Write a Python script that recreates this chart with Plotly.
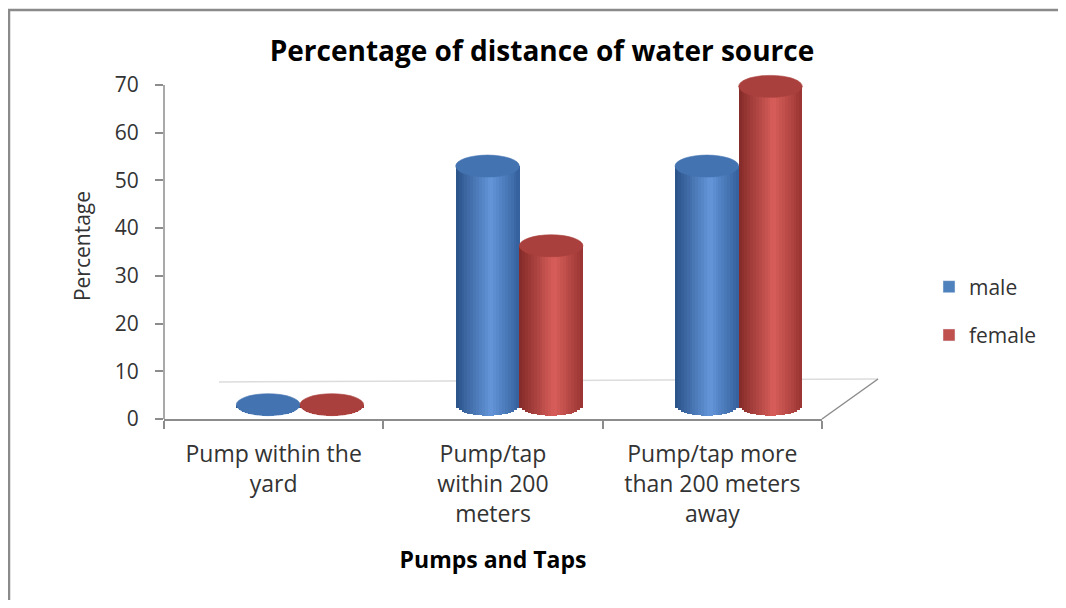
import plotly.graph_objects as go
import math

# ---------------- data ----------------
categories = ["Pump within the<br>yard", "Pump/tap<br>within 200<br>meters", "Pump/tap more<br>than 200 meters<br>away"]
series_names = ["male", "female"]
male = [0, 50, 50]
female = [0, 33.3, 66.7]
y_ticks = [0, 10, 20, 30, 40, 50, 60, 70]

# ---------------- style ----------------
SCR_W, SCR_H = 1066, 608
OFF = 7              # page offset of the figure in the browser
W, H = SCR_W - 16, SCR_H - 16
AX_L, AX_R, AX_T, AX_B = 163, 821, 72, 418   # target plot area (screen pixels)
ML, MR, MT, MB = AX_L - OFF, W + OFF - AX_R, AX_T - OFF, H + OFF - AX_B
YMAX = 72.5
FLOOR = 3.0          # apparent 3D floor depth (axis units)
SHIFT = 0.12         # 3D depth shift of bars (category units)
BW = 0.29            # cylinder width (category units)
EH = 2.3             # ellipse half-height (axis units)
NS = 22              # slices per cylinder

FONT = "'Open Sans', 'Noto Sans', sans-serif"
TXT = "#333333"
AX = "#8c8c8c"

grad = {
    "male": [(0.0, (42, 82, 136)), (0.55, (100, 150, 218)), (1.0, (52, 96, 156))],
    "female": [(0.0, (130, 42, 40)), (0.55, (216, 94, 90)), (1.0, (152, 52, 50))],
}
top_col = {"male": "#4473B2", "female": "#A9403D"}
legend_col = {"male": "#4F81BD", "female": "#C0504D"}


def interp(stops, t):
    for (t0, c0), (t1, c1) in zip(stops[:-1], stops[1:]):
        if t <= t1:
            f = (t - t0) / (t1 - t0)
            return "rgb(%d,%d,%d)" % tuple(round(a + (b - a) * f) for a, b in zip(c0, c1))
    return "rgb(%d,%d,%d)" % stops[-1][1]


fig = go.Figure()
xs = list(range(len(categories)))
shapes = []

for si, (name, vals) in enumerate(zip(series_names, [male, female])):
    left = SHIFT - BW + si * BW  # left edge offset relative to category centre
    for k in range(NS):
        u = (k + 0.5) / NS
        uu = 2 * u - 1
        drop = EH * math.sqrt(max(0.0, 1 - uu * uu))
        base = FLOOR - drop
        fig.add_trace(go.Bar(
            x=xs, y=[v + drop for v in vals], base=[base] * len(vals),
            width=BW / NS * 1.08, offset=left + k * BW / NS,
            marker=dict(color=interp(grad[name], u), line=dict(width=0)),
            showlegend=False, hoverinfo="skip"))
    for xi, v in zip(xs, vals):
        shapes.append(dict(type="circle", xref="x", yref="y",
                           x0=xi + left, x1=xi + left + BW,
                           y0=FLOOR + v - EH, y1=FLOOR + v + EH,
                           fillcolor=top_col[name], line=dict(width=0.6, color=top_col[name]), layer="above"))
    fig.add_trace(go.Bar(x=[None], y=[None], name=name, marker=dict(color=legend_col[name]),
                         legendgroup=name, showlegend=True))

pw = AX_R - AX_L
ph = AX_B - AX_T


def px(p):
    return (p - AX_L) / pw


def py(p):
    return (AX_B - p) / ph


# y axis line (0..70)
shapes.append(dict(type="line", xref="paper", yref="y", x0=0, x1=0, y0=0, y1=70,
                   line=dict(color=AX, width=1.5), layer="above"))
# floor back edge and side
shapes.append(dict(type="line", xref="paper", yref="paper", x0=px(218), x1=px(877), y0=py(381), y1=py(378),
                   line=dict(color="#dcdcdc", width=1.5), layer="below"))
shapes.append(dict(type="line", xref="paper", yref="paper", x0=1, x1=px(877), y0=0, y1=py(378),
                   line=dict(color=AX, width=1.5), layer="below"))
# outer frame
shapes.append(dict(type="rect", xref="paper", yref="paper", x0=px(8), x1=px(1090), y0=py(9), y1=py(640),
                   line=dict(color="#8a8a8a", width=2.5), fillcolor="rgba(0,0,0,0)", layer="below"))

fig.update_layout(
    width=W, height=H,
    margin=dict(l=ML, r=MR, t=MT, b=MB, autoexpand=False),
    paper_bgcolor="white", plot_bgcolor="rgba(0,0,0,0)",
    barmode="overlay", bargap=0,
    title=dict(text="<b>Percentage of distance of water source</b>", x=(541 - OFF) / W, xanchor="center",
               xref="container", y=1 - (50 - OFF) / H, yanchor="middle",
               font=dict(family=FONT, size=28, color="#000000")),
    font=dict(family=FONT, size=21, color=TXT),
    shapes=shapes,
    legend=dict(x=px(928), y=py(310), xanchor="left", yanchor="middle",
                font=dict(family=FONT, size=21, color=TXT), tracegroupgap=18,
                bgcolor="rgba(0,0,0,0)"),
    xaxis=dict(range=[-0.5, 2.5], tickvals=xs, ticktext=categories, ticks="",
               showline=True, linecolor=AX, linewidth=1.5, showgrid=False, zeroline=False,
               ticklabelstandoff=14,
               minor=dict(tickvals=[-0.5, 0.5, 1.5, 2.5], ticks="outside", ticklen=8,
                          tickcolor=AX, tickwidth=1.5, showgrid=False),
               tickfont=dict(family=FONT, size=23, color=TXT),
               title=dict(text="<b>Pumps and Taps</b>", standoff=24,
                          font=dict(family=FONT, size=23, color="#000000"))),
    yaxis=dict(range=[0, YMAX], tickvals=y_ticks, ticks="outside", ticklen=8, tickcolor=AX, tickwidth=1.5,
               showline=False, showgrid=False, zeroline=False, ticklabelstandoff=12,
               tickfont=dict(family=FONT, size=21, color=TXT),
               title=dict(text="Percentage", standoff=18,
                          font=dict(family=FONT, size=21, color=TXT))),
)

fig.write_html("out.html")
